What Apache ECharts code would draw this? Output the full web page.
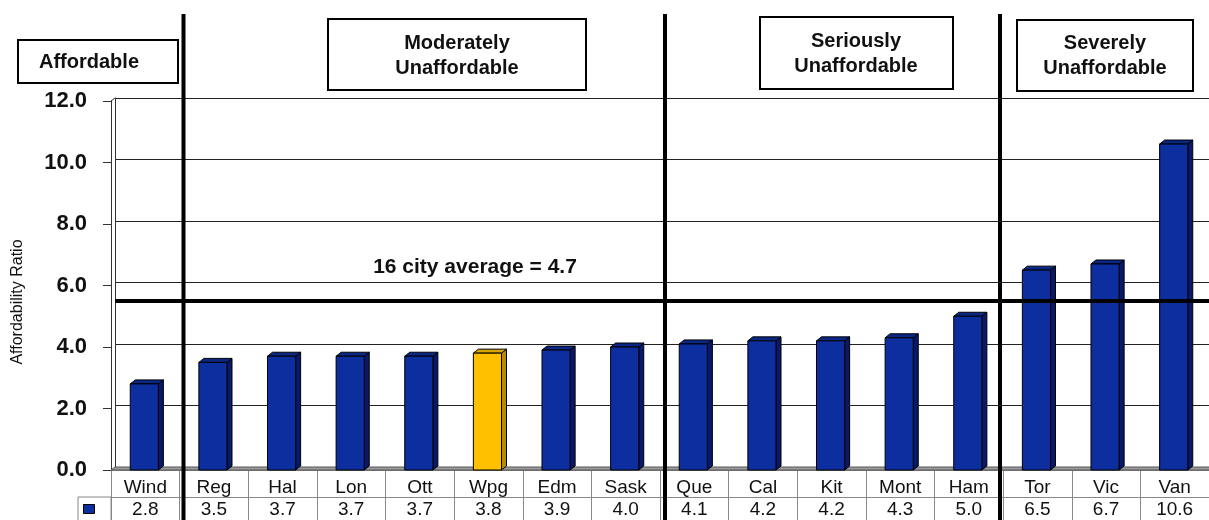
<!DOCTYPE html>
<html>
<head>
<meta charset="utf-8">
<script src="https://cdn.jsdelivr.net/npm/echarts@6/dist/echarts.min.js"></script>
<style>
html,body{margin:0;padding:0;background:#fff;}
#chart{width:1209px;height:520px;}
</style>
</head>
<body>
<div id="chart"></div>
<script>
// ---- data ----
const categories = ['Wind','Reg','Hal','Lon','Ott','Wpg','Edm','Sask','Que','Cal','Kit','Mont','Ham','Tor','Vic','Van'];
const ratios = [2.8,3.5,3.7,3.7,3.7,3.8,3.9,4.0,4.1,4.2,4.2,4.3,5.0,6.5,6.7,10.6];
const highlighted = ['Wpg'];
const yMin = 0, yMax = 12, yStep = 2;
const averageText = '16 city average = 4.7';
const averageLineLevel = [5.4];   // level at which the reference draws the thick line
const seriesName = 'Affordability Ratio';
const groupLabels = ['Affordable', 'Moderately\nUnaffordable', 'Seriously\nUnaffordable', 'Severely\nUnaffordable'];

// ---- styles ----
const FONT = '"Liberation Sans", Arial, Helvetica, sans-serif';
const BLUE = { front: '#0C2E9E', side: '#06196A', top: '#0A2786' };
const GOLD = { front: '#FFC000', side: '#B48A08', top: '#D9A400' };
const DX = 5, DY = 4;

const chart = echarts.init(document.getElementById('chart'), null, { renderer: 'canvas' });

function renderBar(params, api) {
  const idx = api.value(0);
  const val = api.value(1);
  const base = api.coord([idx, 0]);
  const top = api.coord([idx, val]);
  const bw = api.size([1, 0])[0] * 0.41;
  const x0 = top[0] - bw / 2 - 1;
  const c = highlighted.indexOf(categories[idx]) >= 0 ? GOLD : BLUE;
  const stroke = { stroke: '#000', lineWidth: 1 };
  return {
    type: 'group',
    children: [
      { type: 'polygon', shape: { points: [[x0 + bw, top[1]], [x0 + bw + DX, top[1] - DY], [x0 + bw + DX, base[1] - DY], [x0 + bw, base[1]]] },
        style: Object.assign({ fill: c.side }, stroke) },
      { type: 'polygon', shape: { points: [[x0, top[1]], [x0 + DX, top[1] - DY], [x0 + bw + DX, top[1] - DY], [x0 + bw, top[1]]] },
        style: Object.assign({ fill: c.top }, stroke) },
      { type: 'rect', shape: { x: x0, y: top[1], width: bw, height: base[1] - top[1] },
        style: Object.assign({ fill: c.front }, stroke) }
    ]
  };
}

function box(x, y, w, h, text, cx, cy) {
  return {
    type: 'group', z: 20,
    children: [
      { type: 'rect', shape: { x: x, y: y, width: w, height: h }, style: { fill: '#fff', stroke: '#000', lineWidth: 2 } },
      { type: 'text', x: cx, y: cy, style: { text: text, font: 'bold 20px ' + FONT, fill: '#111', textAlign: 'center', textVerticalAlign: 'middle', lineHeight: 25 } }
    ]
  };
}

function vline(x) {
  return { type: 'line', z: 30, shape: { x1: x, y1: 14, x2: x, y2: 520 }, style: { stroke: '#000', lineWidth: 4 } };
}

const option = {
  animation: false,
  backgroundColor: '#fff',
  grid: [
    { left: 111, top: 101, width: 1101, height: 369 },
    { left: 115, top: 98, width: 1101, height: 369 }
  ],
  legend: {
    data: [seriesName], left: 83, top: 504, itemWidth: 11, itemHeight: 9, icon: 'rect',
    formatter: () => '', selectedMode: false, itemGap: 0, padding: 0,
    itemStyle: { borderColor: '#000', borderWidth: 1 }
  },
  xAxis: [
    { type: 'category', gridIndex: 0, data: categories, boundaryGap: true,
      axisLine: { show: true, lineStyle: { color: '#888', width: 1 } },
      axisTick: { show: true, length: 52, interval: 0, lineStyle: { color: '#888', width: 1 } },
      axisLabel: { interval: 0, margin: 8, fontSize: 19, fontFamily: FONT, color: '#111' } },
    { type: 'category', gridIndex: 0, data: categories, position: 'bottom', offset: 27, boundaryGap: true,
      axisLine: { show: true, lineStyle: { color: '#888', width: 1 } },
      axisTick: { show: false },
      axisLabel: { interval: 0, margin: 3, fontSize: 19, fontFamily: FONT, color: '#111',
        formatter: (v, i) => ratios[i].toFixed(1) } },
    { type: 'category', gridIndex: 1, data: categories, show: false }
  ],
  yAxis: [
    { type: 'value', gridIndex: 0, min: yMin, max: yMax, interval: yStep,
      axisLine: { show: true, lineStyle: { color: '#333', width: 1 } },
      axisTick: { show: true, length: 8, lineStyle: { color: '#333' } },
      splitLine: { show: false },
      axisLabel: { margin: 24, fontSize: 22, fontWeight: 'bold', fontFamily: FONT, color: '#111',
        formatter: v => v.toFixed(1) } },
    { type: 'value', gridIndex: 1, min: yMin, max: yMax, interval: yStep,
      axisLine: { show: true, lineStyle: { color: '#333', width: 1 } },
      axisTick: { show: false }, axisLabel: { show: false },
      splitLine: { show: true, lineStyle: { color: '#222', width: 1.2 } } }
  ],
  series: [
    { name: seriesName, type: 'custom', xAxisIndex: 0, yAxisIndex: 0, z: 3,
      itemStyle: { color: BLUE.front },
      renderItem: renderBar,
      data: categories.map((c, i) => [i, ratios[i]]) },
    { name: 'avg', type: 'custom', xAxisIndex: 2, yAxisIndex: 1, z: 6,
      renderItem: () => ({ type: 'group', children: [] }),
      data: [[0, 0]],
      markLine: { silent: true, symbol: ['none', 'none'], label: { show: false },
        lineStyle: { color: '#000', width: 4, type: 'solid' },
        data: averageLineLevel.map(v => ({ yAxis: v })) } }
  ],
  graphic: [
    { type: 'polygon', z: 1, shape: { points: [[115, 467], [1212, 467], [1212, 470], [111, 470]] },
      style: { fill: '#9c9c9c', stroke: '#555', lineWidth: 1 } },
    { type: 'line', z: 2, shape: { x1: 111, y1: 101, x2: 115, y2: 98 }, style: { stroke: '#333', lineWidth: 1 } },
    { type: 'rect', z: 2, shape: { x: 78, y: 497, width: 33, height: 30 }, style: { fill: 'none', stroke: '#888', lineWidth: 1 } },
    { type: 'text', z: 10, x: 18, y: 302, rotation: Math.PI / 2,
      style: { text: seriesName, font: '16px ' + FONT, fill: '#111', textAlign: 'center', textVerticalAlign: 'middle' } },
    { type: 'text', z: 10, x: 475, y: 267,
      style: { text: averageText, font: 'bold 21px ' + FONT, fill: '#111', textAlign: 'center', textVerticalAlign: 'middle' } },
    vline(183.5), vline(665), vline(1000),
    box(18, 40, 160, 43, groupLabels[0], 89, 62),
    box(328, 19, 258, 71, groupLabels[1], 457, 56),
    box(760, 17, 193, 72, groupLabels[2], 856, 54),
    box(1017, 20, 176, 71, groupLabels[3], 1105, 56)
  ]
};
chart.setOption(option);
</script>
</body>
</html>
